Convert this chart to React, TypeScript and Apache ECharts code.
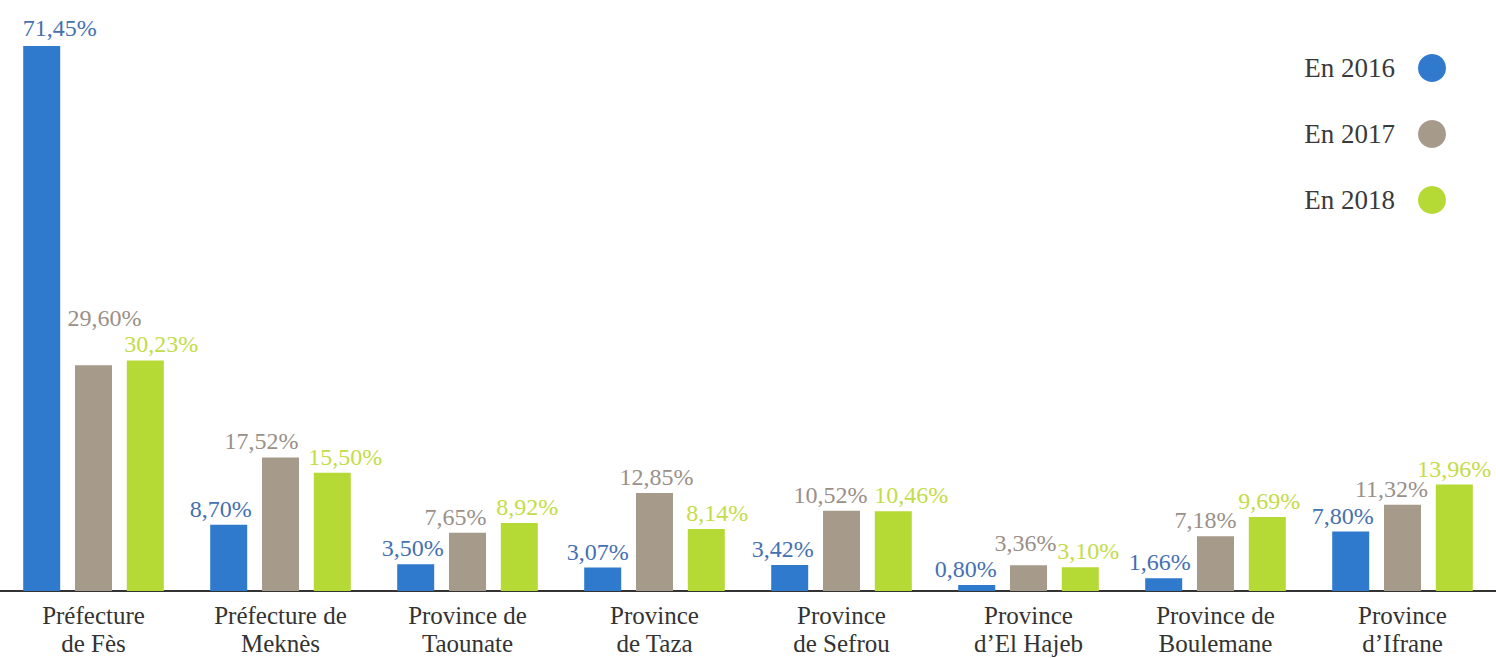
import React, { useEffect, useRef } from "react";
import * as echarts from "echarts";

const categories = [
  "Préfecture\nde Fès",
  "Préfecture de\nMeknès",
  "Province de\nTaounate",
  "Province\nde Taza",
  "Province\nde Sefrou",
  "Province\nd’El Hajeb",
  "Province de\nBoulemane",
  "Province\nd’Ifrane",
];
const seriesNames = ["En 2016", "En 2017", "En 2018"];
const values2016 = [71.45, 8.7, 3.5, 3.07, 3.42, 0.8, 1.66, 7.8];
const values2017 = [29.6, 17.52, 7.65, 12.85, 10.52, 3.36, 7.18, 11.32];
const values2018 = [30.23, 15.5, 8.92, 8.14, 10.46, 3.1, 9.69, 13.96];

// label placement tweaks (x / y shift of each value label, in px)
const labelDx = [
  [18, -8, -3, -5, -7, -11, -4, -8],
  [11, -19, -12, 2, -11, -3, -10, -11],
  [16, 13, 8, 11, 18, 8, 2, 0],
];
const labelDy = [
  [-2, 0, 0, 0, 0, 0, 0, 0],
  [-31, 0, 0, 0, 0, -6, 0, 0],
  [0, 0, 0, 0, 0, 0, 0, 0],
];

const barColors = ["#2f7acd", "#a69a8b", "#b5d935"];
const labelColors = ["#4570b2", "#9a9089", "#c3dc48"];

const FONT = "'Liberation Serif', 'DejaVu Serif', serif";

export default function App() {
  const ref = useRef<HTMLDivElement>(null);
  useEffect(() => {
    if (!ref.current) return;
    const chart = echarts.init(ref.current, null, { renderer: "svg" });
    const all = [values2016, values2017, values2018];
    chart.setOption({
      animation: false,
      backgroundColor: "#ffffff",
      grid: { left: 0, width: 1501, top: 19, bottom: 67, containLabel: false },
      legend: {
        orient: "vertical",
        right: 50,
        top: 54,
        padding: 0,
        align: "right",
        itemWidth: 28,
        itemHeight: 28,
        itemGap: 38,
        icon: "circle",
        textStyle: {
          fontFamily: FONT,
          fontSize: 27,
          lineHeight: 28,
          color: "#3a3a3a",
          padding: [0, 18, 0, 0],
        },
        data: seriesNames,
      },
      xAxis: {
        type: "category",
        data: categories,
        axisLine: { lineStyle: { color: "#333333", width: 2 } },
        axisTick: { show: false },
        axisLabel: {
          fontFamily: FONT,
          fontSize: 25,
          color: "#333333",
          lineHeight: 28,
          margin: 10,
          interval: 0,
        },
      },
      yAxis: {
        type: "value",
        min: 0,
        max: 75,
        show: false,
        splitLine: { show: false },
      },
      series: all.map((vals, i) => ({
        name: seriesNames[i],
        type: "bar",
        data: vals.map((v, j) => ({
          value: v,
          label: { offset: [labelDx[i][j], labelDy[i][j]] },
        })),
        barWidth: 37,
        barGap: "40%",
        itemStyle: { color: barColors[i] },
        label: {
          show: true,
          position: "top",
          distance: 4,
          fontFamily: FONT,
          fontSize: 24,
          color: labelColors[i],
          formatter: (p: any) => p.value.toFixed(2).replace(".", ",") + "%",
        },
      })),
    });
    return () => chart.dispose();
  }, []);
  return (
    <div
      ref={ref}
      style={{ position: "fixed", left: 0, top: 0, width: 1496, height: 658 }}
    />
  );
}
